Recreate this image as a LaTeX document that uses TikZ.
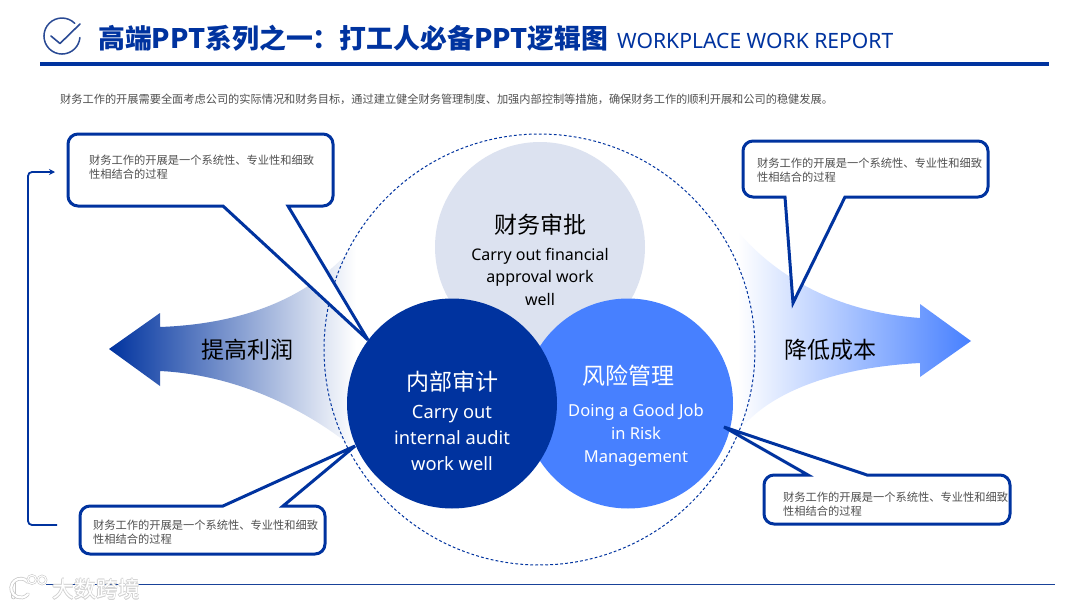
\documentclass[tikz,border=0pt]{standalone}
\usepackage{fontspec}
\setmainfont{Noto Sans CJK SC}
\newfontfamily\latinf{Noto Sans}
\usetikzlibrary{arrows.meta}
\definecolor{navy}{HTML}{00339F}
\definecolor{brightb}{HTML}{4780FF}
\definecolor{paleb}{HTML}{DCE2F0}
\definecolor{bodyg}{HTML}{505050}
\definecolor{iconb}{HTML}{2A4A94}
\tikzset{
  callout/.style={draw=navy,line width=3pt,fill=white,line join=miter,miter limit=5},
  cjkhead/.style={font=\fontsize{23}{26}\selectfont,anchor=center,inner sep=0pt},
  eng/.style={font=\latinf\fontsize{16.5}{20}\selectfont,anchor=base,inner sep=0pt},
  engtop/.style={eng,font=\latinf\fontsize{16}{20}\selectfont},
  engl/.style={eng,text=white,font=\latinf\fontsize{18.3}{20}\selectfont},
  note/.style={font=\fontsize{11.25}{14}\selectfont,text=bodyg,anchor=north west,align=left,inner sep=0pt},
  wmtext/.style={anchor=west,inner sep=0pt,font=\fontsize{22}{24}\selectfont},
}
\begin{document}
\begin{tikzpicture}[x=1pt,y=-1pt]
\useasboundingbox (0,0) rectangle (1080,608);
\fill[white] (0,0) rectangle (1080,608);
% header
\draw[iconb,line width=1.5pt,line cap=round] (74.7,23.3) arc[start angle=-45,end angle=-355,radius=18];
\draw[iconb,line width=1.6pt,line cap=round,line join=round] (51,36) -- (60,43.5) -- (80,24);
\node[anchor=west,inner sep=0pt,text=navy,font=\bfseries\fontsize{26.85}{30}\selectfont] (title) at (98,38.5) {高端PPT系列之一：打工人必备PPT逻辑图};
\node[anchor=west,inner sep=0pt,text=navy,font=\latinf\fontsize{21.1}{26}\selectfont] (sub) at (617,40.5) {WORKPLACE WORK REPORT};
\draw[navy,line width=4pt] (40,64) -- (1049,64);
\node[anchor=west,inner sep=0pt,text=bodyg,font=\fontsize{11.2}{14}\selectfont] (intro) at (60,99) {财务工作的开展需要全面考虑公司的实际情况和财务目标，通过建立健全财务管理制度、加强内部控制等措施，确保财务工作的顺利开展和公司的稳健发展。};
% gradient arrows
\shade[left color=navy,right color=white]
 (109,349) -- (160,313) -- (160,327) .. controls (240,324) and (310,300) .. (356,243)
 -- (356,450) .. controls (310,412) and (240,375) .. (160,371) -- (160,386) -- cycle;
\shade[left color=white,right color=brightb]
 (971,341) -- (920,377) -- (920,363) .. controls (840,367) and (770,390) .. (738,432)
 -- (738,232) .. controls (780,280) and (840,312) .. (920,318) -- (920,304) -- cycle;
% circles
\draw[navy,line width=1pt,dash pattern=on 2.8pt off 2.2pt] (539.5,349.5) circle[radius=215.5];
\node[circle,fill=paleb,minimum size=210pt,inner sep=0pt] (top) at (540,247) {};
\node[circle,fill=brightb,minimum size=210pt,inner sep=0pt] (rc) at (628,403.5) {};
\node[circle,fill=navy,minimum size=210pt,inner sep=0pt] (lc) at (452,403.5) {};
% circle texts
\node[cjkhead] (t1) at (540,225) {财务审批};
\node[engtop] (t2) at (540,260) {Carry out financial};
\node[engtop] (t3) at (540,282) {approval work};
\node[engtop] (t4) at (540,305) {well};
\node[cjkhead,text=white] (l1) at (452,382) {内部审计};
\node[engl] (l2) at (452,418) {Carry out};
\node[engl] (l3) at (452,444) {internal audit};
\node[engl] (l4) at (452,470) {work well};
\node[cjkhead,text=white] (r1) at (628,376) {风险管理};
\node[eng,text=white] (r2) at (636,416) {Doing a Good Job};
\node[eng,text=white] (r3) at (636,439) {in Risk};
\node[eng,text=white] (r4) at (636,462) {Management};
\node[cjkhead] (a1) at (247,350) {提高利润};
\node[cjkhead] (a2) at (830,350) {降低成本};
% callouts
\draw[callout]
 (78,134) -- (323,134) arc[start angle=-90,end angle=0,radius=10] -- (333,196) arc[start angle=0,end angle=90,radius=10]
 -- (288,206) -- (368,340) -- (223,206) -- (78,206) arc[start angle=90,end angle=180,radius=10] -- (68,144) arc[start angle=180,end angle=270,radius=10] -- cycle;
\draw[callout]
 (90,506) -- (223,506) -- (355,446) -- (283,506) -- (315,506) arc[start angle=-90,end angle=0,radius=10] -- (325,544) arc[start angle=0,end angle=90,radius=10]
 -- (90,554) arc[start angle=90,end angle=180,radius=10] -- (80,516) arc[start angle=180,end angle=270,radius=10] -- cycle;
\draw[callout]
 (753,141) -- (978,141) arc[start angle=-90,end angle=0,radius=10] -- (988,187) arc[start angle=0,end angle=90,radius=10]
 -- (845,197) -- (793,303) -- (785,197) -- (753,197) arc[start angle=90,end angle=180,radius=10] -- (743,151) arc[start angle=180,end angle=270,radius=10] -- cycle;
\draw[callout]
 (774,475) -- (808,475) -- (724,427) -- (867,475) -- (1000,475) arc[start angle=-90,end angle=0,radius=10] -- (1010,514) arc[start angle=0,end angle=90,radius=10]
 -- (774,524) arc[start angle=90,end angle=180,radius=10] -- (764,485) arc[start angle=180,end angle=270,radius=10] -- cycle;
\node[note] (n1) at (89,155) {财务工作的开展是一个系统性、专业性和细致\\性相结合的过程};
\node[note] (n2) at (93,519.5) {财务工作的开展是一个系统性、专业性和细致\\性相结合的过程};
\node[note] (n3) at (757,157.5) {财务工作的开展是一个系统性、专业性和细致\\性相结合的过程};
\node[note] (n4) at (783,491.5) {财务工作的开展是一个系统性、专业性和细致\\性相结合的过程};
% bracket
\coordinate (bs) at (57,525);
\coordinate (be) at (55,172);
\draw[navy,line width=1.8pt,rounded corners=4pt,-{Stealth[length=6pt,width=6pt]}] (bs) -- (28,525) -- (28,172) -- (be);
% footer
\draw[navy!80!gray,line width=1pt] (46,584) -- (1055,584);
% watermark
\foreach \dx/\dy [count=\k] in {-.7/0,.7/0,0/-.7,0/.7,.7/.7}
  \node[wmtext,text=black!18] (wmg\k) at (52+\dx,589+\dy) {大数跨境};
\node[wmtext,text=white] (wm) at (52,589) {大数跨境};
\draw[black!22,line width=4.5pt,line cap=round] (13.5,583) -- (13.5,597);
\draw[white,line width=3pt,line cap=round] (13.5,583) -- (13.5,597);
\draw[black!22,line width=3.6pt,line cap=round] (28,582) arc[start angle=-40,end angle=-320,radius=9.5];
\draw[white,line width=2.2pt,line cap=round] (28,582) arc[start angle=-40,end angle=-320,radius=9.5];
\draw[black!22,line width=2.2pt] (32,579.5) circle[radius=4.2] (42,580) circle[radius=4.2];
\draw[white,line width=1.1pt] (32,579.5) circle[radius=4.2] (42,580) circle[radius=4.2];
\end{tikzpicture}
\end{document}
